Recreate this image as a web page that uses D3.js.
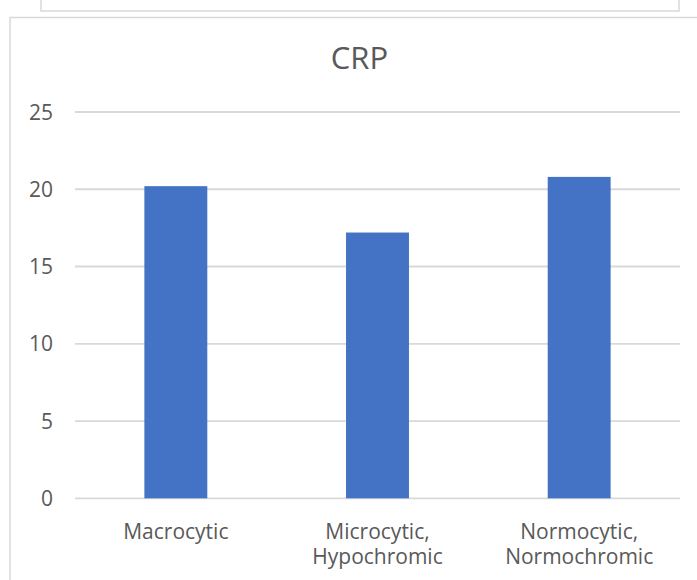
<!DOCTYPE html>
<html>
<head>
<meta charset="utf-8">
<script src="https://cdn.jsdelivr.net/npm/d3@7"></script>
<style>
  html, body { margin: 0; padding: 0; background: #fff; }
  svg { display: block; }
  text { font-family: "Open Sans", "Noto Sans", sans-serif; fill: #595959; }
</style>
</head>
<body>
<svg id="chart" width="697" height="580"></svg>
<script>
const categories = [["Macrocytic"], ["Microcytic,", "Hypochromic"], ["Normocytic,", "Normochromic"]];
const values = [20.2, 17.2, 20.8];
const yTicks = [0, 5, 10, 15, 20, 25];
const title = "CRP";

(function () {
const svg = d3.select("#chart");

// neighbouring chart box (bottom edge visible at top)
svg.append("rect").attr("x", 41).attr("y", -20).attr("width", 638).attr("height", 31)
  .attr("fill", "#fff").attr("stroke", "#d9d9d9").attr("stroke-width", 1.5);
// main chart box
svg.append("rect").attr("x", 10).attr("y", 17.5).attr("width", 720).attr("height", 600)
  .attr("fill", "#fff").attr("stroke", "#d9d9d9").attr("stroke-width", 1.5);

const pLeft = 75, pRight = 680, pTop = 112, pBottom = 498.3;

const x = d3.scaleBand().domain(d3.range(categories.length)).range([pLeft, pRight])
  .paddingInner(0.688).paddingOuter(0.344);
const y = d3.scaleLinear().domain([0, 25]).range([pBottom, pTop]);

svg.append("text").attr("x", 359.5).attr("y", 68.5).attr("text-anchor", "middle")
  .style("font-size", "31px").text(title);

// gridlines
svg.append("g").selectAll("line").data(yTicks).join("line")
  .attr("x1", pLeft).attr("x2", pRight)
  .attr("y1", d => y(d)).attr("y2", d => y(d))
  .attr("stroke", "#d9d9d9").attr("stroke-width", 1.8);

// y tick labels
svg.append("g").selectAll("text").data(yTicks).join("text")
  .attr("x", 53).attr("y", d => y(d)).attr("dy", "0.36em")
  .attr("text-anchor", "end").style("font-size", "21px").text(d => d);

// bars
svg.append("g").selectAll("rect").data(values).join("rect")
  .attr("x", (d, i) => x(i)).attr("width", x.bandwidth())
  .attr("y", d => y(d)).attr("height", d => y(0) - y(d))
  .attr("fill", "#4472c4");

// category labels
const lab = svg.append("g").selectAll("text").data(categories).join("text")
  .attr("text-anchor", "middle").style("font-size", "21px")
  .attr("transform", (d, i) => `translate(${x(i) + x.bandwidth() / 2},538.5)`);
lab.selectAll("tspan").data(d => d).join("tspan")
  .attr("x", 0).attr("y", (d, j) => j * 25).text(d => d);
})();
</script>
</body>
</html>
